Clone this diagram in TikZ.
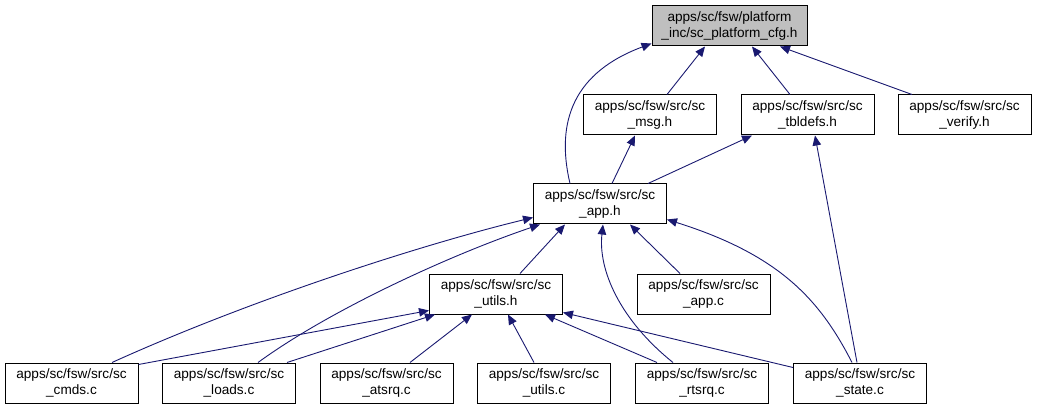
\documentclass[tikz,border=0pt]{standalone}
\usepackage{fontspec}
\setmainfont{Liberation Sans}
\usetikzlibrary{arrows.meta}
\definecolor{edgeblue}{HTML}{191970}
\definecolor{topgray}{HTML}{BFBFBF}
\begin{document}
\begin{tikzpicture}[x=1pt,y=-1pt,
  file/.style={draw=black,line width=1pt,fill=white,minimum width=133pt,minimum height=40pt,
    inner sep=0pt,align=center,font=\fontsize{13.6}{16}\selectfont},
  edge/.style={draw=edgeblue,line width=0.9pt,-{Triangle[length=10pt,width=8.5pt]}}]
\useasboundingbox (0,0) rectangle (1037,409);
\node[file,fill=topgray,minimum width=155pt] (top) at (729.5,26) {apps/sc/fsw/platform\\\_inc/sc\_platform\_cfg.h};
\node[file] (msg) at (650,115) {apps/sc/fsw/src/sc\\\_msg.h};
\node[file] (tbl) at (807.5,115) {apps/sc/fsw/src/sc\\\_tbldefs.h};
\node[file] (ver) at (964.5,115) {apps/sc/fsw/src/sc\\\_verify.h};
\node[file] (apph) at (600,204) {apps/sc/fsw/src/sc\\\_app.h};
\node[file] (utilsh) at (496,294) {apps/sc/fsw/src/sc\\\_utils.h};
\node[file] (appc) at (703.5,294) {apps/sc/fsw/src/sc\\\_app.c};
\node[file] (cmds) at (71.5,383) {apps/sc/fsw/src/sc\\\_cmds.c};
\node[file] (loads) at (229,383) {apps/sc/fsw/src/sc\\\_loads.c};
\node[file] (atsrq) at (386.5,383) {apps/sc/fsw/src/sc\\\_atsrq.c};
\node[file] (utilsc) at (544,383) {apps/sc/fsw/src/sc\\\_utils.c};
\node[file] (rtsrq) at (702,383) {apps/sc/fsw/src/sc\\\_rtsrq.c};
\node[file] (state) at (860,383) {apps/sc/fsw/src/sc\\\_state.c};
% edges to top
\draw[edge] ([xshift=17pt]msg.north) -- ([xshift=-24.5pt]top.south);
\draw[edge] ([xshift=-17.5pt]tbl.north) -- ([xshift=22.5pt]top.south);
\draw[edge] ([xshift=-52.5pt]ver.north) -- ([xshift=50.5pt]top.south);
\draw[edge] ([xshift=-30pt]apph.north) .. controls (555,120) and (575,72) .. ([yshift=3pt]top.south west);
% edges to msg / tbldefs
\draw[edge] ([xshift=12pt]apph.north) -- ([xshift=-15pt]msg.south);
\draw[edge] ([xshift=48pt]apph.north) -- ([xshift=-55.5pt]tbl.south);
\draw[edge] ([xshift=-3pt]state.north) -- ([xshift=7.5pt]tbl.south);
% edges to app.h
\draw[edge] ([xshift=24pt]utilsh.north) -- ([xshift=-35pt]apph.south);
\draw[edge] ([xshift=-23.5pt]appc.north) -- ([xshift=30pt]apph.south);
\draw[edge] ([xshift=40.5pt]cmds.north) .. controls (250,300) and (420,245) .. ([yshift=7pt]apph.south west);
\draw[edge] ([xshift=29pt]loads.north) .. controls (330,310) and (450,255) .. ([xshift=7pt]apph.south west);
\draw[edge] ([xshift=-29pt]rtsrq.north) .. controls (620,320) and (598,270) .. ([xshift=3pt]apph.south);
\draw[edge] ([xshift=-8pt]state.north) .. controls (820,300) and (780,255) .. ([yshift=5pt]apph.south east);
% edges to utils.h
\draw[edge] ([yshift=-2pt]cmds.north east) -- ([yshift=4pt]utilsh.south west);
\draw[edge] ([xshift=58pt]loads.north) -- ([xshift=6pt]utilsh.south west);
\draw[edge] ([xshift=23.5pt]atsrq.north) -- ([xshift=-24pt]utilsh.south);
\draw[edge] ([xshift=-10pt]utilsc.north) -- ([xshift=12pt]utilsh.south);
\draw[edge] ([xshift=-45pt]rtsrq.north) -- ([xshift=49pt]utilsh.south);
\draw[edge] ([yshift=-5pt]state.north west) -- ([yshift=2pt]utilsh.south east);
\end{tikzpicture}
\end{document}
